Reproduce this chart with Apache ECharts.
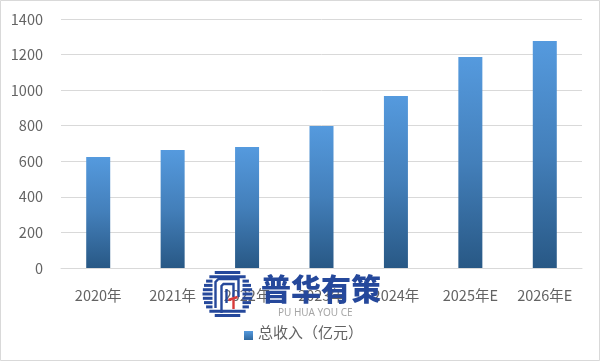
<!DOCTYPE html>
<html><head><meta charset="utf-8">
<style>html,body{margin:0;padding:0;background:#fff}#c{width:600px;height:361px}</style>
<script src="https://cdn.jsdelivr.net/npm/echarts@6/dist/echarts.min.js"></script>
</head><body><div id="c"></div>
<script>
const categories=['2020年','2021年','2022年','2023年','2024年','2025年E','2026年E'];
const revenue=[624,663,680,798,967,1186,1276];
const yTicks=[0,200,400,600,800,1000,1200,1400];
const seriesName='总收入（亿元）';
const font='"Noto Sans CJK SC","Noto Sans",sans-serif';
const chart=echarts.init(document.getElementById('c'),null,{renderer:'canvas'});
const barFill=new echarts.graphic.LinearGradient(0,0,0,1,[{offset:0,color:'#559ade'},{offset:0.5,color:'#437fba'},{offset:1,color:'#285885'}]);
const legendFill=new echarts.graphic.LinearGradient(0,0,0,1,[{offset:0,color:'#559ade'},{offset:1,color:'#2f689f'}]);
const blue='#25489b';
const cx=227.5,cy=294,R=25;
const logo=[];
// striped ring, open in the middle so the axis label shows through
for(let i=-5;i<=5;i++){
  const y=i*4.3, hw=Math.sqrt(Math.max(0,R*R-y*y));
  const inner=Math.abs(y)<=17?15:0;
  if(inner){
    logo.push({type:'rect',z:20,shape:{x:cx-hw,y:cy+y-1.5,width:hw-inner,height:3},style:{fill:blue}});
    logo.push({type:'rect',z:20,shape:{x:cx+inner,y:cy+y-1.5,width:hw-inner,height:3},style:{fill:blue}});
  }else{
    logo.push({type:'rect',z:20,shape:{x:cx-hw,y:cy+y-1.5,width:hw*2,height:3},style:{fill:blue}});
  }
}
// door-shaped mark
const door=(pts,c)=>logo.push({type:'polyline',z:22,shape:{points:pts},style:{fill:'none',stroke:c,lineWidth:2.4}});
door([[cx-12,cy+14],[cx-12,cy-12],[cx-9,cy-15],[cx+11,cy-15],[cx+11,cy+3]],blue);
door([[cx-6,cy+19],[cx-6,cy-8],[cx-4,cy-10],[cx+6,cy-10],[cx+6,cy+3]],blue);
door([[cx-1,cy+9],[cx-1,cy-5]],blue);
door([[cx+1,cy+6],[cx+10,cy+3]],'#d83a3a');
door([[cx+6,cy+6],[cx+6,cy+15]],'#d83a3a');
chart.setOption({
  animation:false,
  backgroundColor:'#fff',
  grid:{left:61,right:18,top:19,bottom:93,containLabel:false},
  legend:{show:false},
  xAxis:{type:'category',data:categories,
    axisLine:{lineStyle:{color:'#d9d9d9',width:1}},axisTick:{show:false},
    axisLabel:{color:'#636363',fontSize:14.5,fontFamily:font,margin:20,interval:0}},
  yAxis:{type:'value',min:0,max:1400,interval:200,
    axisLine:{show:false},axisTick:{show:false},
    splitLine:{lineStyle:{color:'#d9d9d9',width:1}},
    axisLabel:{color:'#636363',fontSize:14.5,fontFamily:font,margin:18,
      formatter:v=>yTicks.includes(v)?String(v):''}},
  series:[{name:seriesName,type:'bar',data:revenue,barWidth:24,itemStyle:{color:barFill}}],
  graphic:[
    {type:'rect',z:30,silent:true,shape:{x:0.5,y:0.5,width:599,height:360},style:{fill:'none',stroke:'#d9d9d9',lineWidth:1}},
    ...logo,
    {type:'text',z:20,x:261,y:274,style:{text:'普华有策',font:'900 30px "Noto Sans CJK SC"',fill:blue}},
    {type:'text',z:20,x:278,y:308,style:{text:'PU HUA YOU CE',font:'10px "Noto Sans","Liberation Sans",sans-serif',fill:'#a6a6a6'}},
    {type:'rect',z:20,shape:{x:244,y:331,width:9,height:9},style:{fill:legendFill}},
    {type:'text',z:20,x:258,y:325,style:{text:seriesName,font:'15px "Noto Sans CJK SC"',fill:'#636363'}}
  ]
});
</script></body></html>
